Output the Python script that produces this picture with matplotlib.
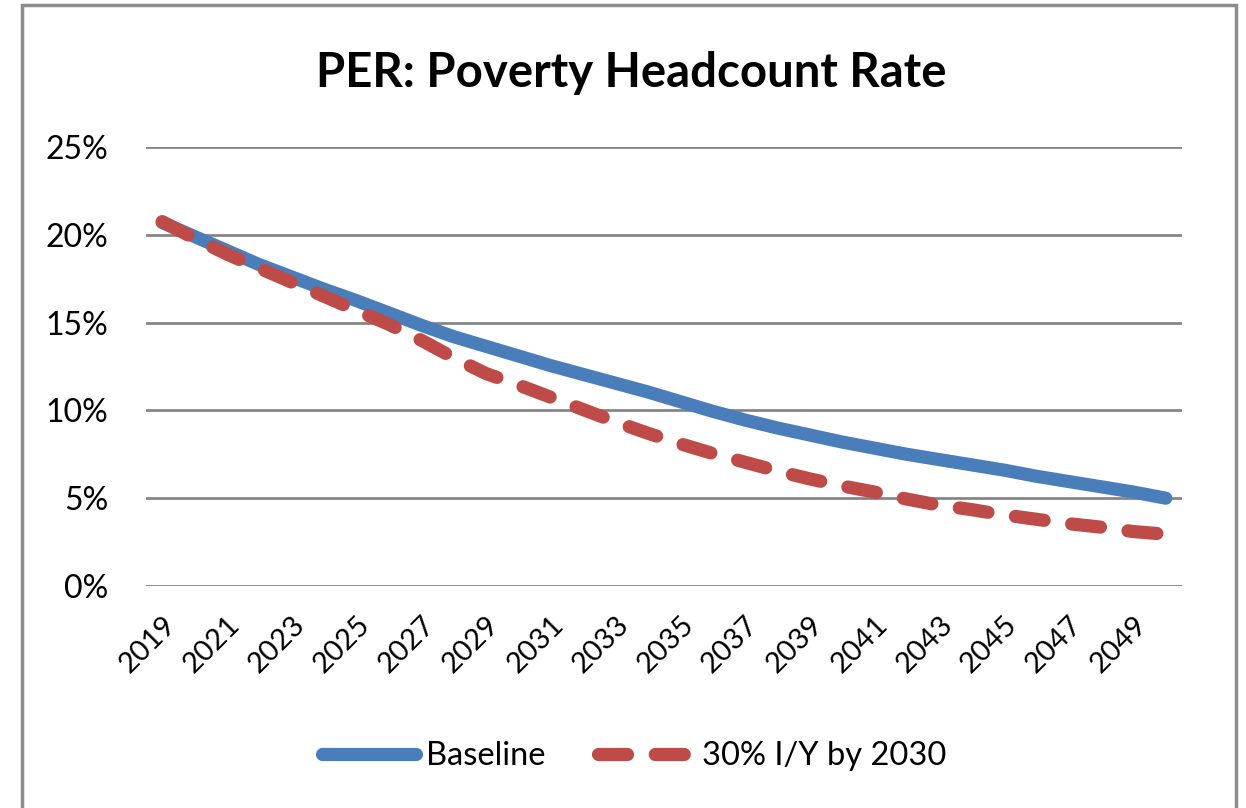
import numpy as np
import matplotlib.pyplot as plt
from matplotlib.patches import Rectangle

plt.rcParams['font.family'] = ['Lato', 'DejaVu Sans']

# poverty headcount rate, %
years = list(range(2019, 2051))
baseline = [20.7, 19.9, 19.1, 18.3, 17.6, 16.9, 16.25, 15.55, 14.85, 14.2,
            13.65, 13.1, 12.55, 12.05, 11.55, 11.05, 10.5, 9.95, 9.45, 9.0,
            8.6, 8.2, 7.85, 7.5, 7.2, 6.9, 6.6, 6.25, 5.95, 5.65, 5.35, 5.0]
scenario = [20.75, 19.8, 18.9, 18.1, 17.3, 16.5, 15.7, 14.9, 14.0, 13.0,
            12.1, 11.45, 10.75, 10.05, 9.35, 8.7, 8.1, 7.55, 7.05, 6.55,
            6.1, 5.7, 5.35, 4.95, 4.6, 4.35, 4.05, 3.8, 3.55, 3.35, 3.1, 2.95]
series_names = ['Baseline', '30% I/Y by 2030']
y_ticks = [0, 5, 10, 15, 20, 25]

W, H = 1246, 808
fig = plt.figure(figsize=(W / 100, H / 100), dpi=100)
ax = fig.add_axes([146 / W, 1 - 586 / H, (1182 - 146) / W, (586 - 147) / H])

# outer chart frame
fig.patches.append(Rectangle((22 / W, -0.01), (1236 - 22) / W, 1.01 - 5 / H,
                             transform=fig.transFigure, fill=False,
                             edgecolor='#8c8c8c', linewidth=2.5))

x = np.arange(len(years))
ax.plot(x, baseline, color='#4a7ebb', linewidth=9.5, solid_capstyle='round',
        solid_joinstyle='round', label=series_names[0], zorder=3)
ax.plot(x, scenario, color='#be4b48', linewidth=9.5, linestyle=(0, (2.2, 2.1)),
        dash_capstyle='round', label=series_names[1], zorder=4)

ax.set_xlim(-0.5, len(years) - 0.5)
ax.set_ylim(0, 25)
ax.set_yticks(y_ticks)
ax.set_yticklabels(['%d%%' % v for v in y_ticks], fontsize=23)
ax.set_xticks(x[::2])
ax.set_xticklabels([str(y) for y in years[::2]], fontsize=21, rotation=45,
                   ha='right', va='top', rotation_mode='anchor')
ax.tick_params(axis='y', length=0, pad=27)
ax.tick_params(axis='x', length=0, pad=18)
ax.grid(axis='y', color='#868686', linewidth=2)
ax.set_axisbelow(True)
for s in ax.spines.values():
    s.set_visible(False)

fig.text(631 / W, 1 - 87 / H, 'PER: Poverty Headcount Rate', fontsize=34,
         fontweight='bold', ha='center', va='baseline')

fig.legend(loc='center', bbox_to_anchor=(634 / W, 1 - 756 / H), ncol=2,
           frameon=False, fontsize=23.5, handlelength=2.9, handletextpad=0.3,
           columnspacing=1.6, borderpad=0)

fig.savefig('out.png', dpi=100, facecolor='white')
